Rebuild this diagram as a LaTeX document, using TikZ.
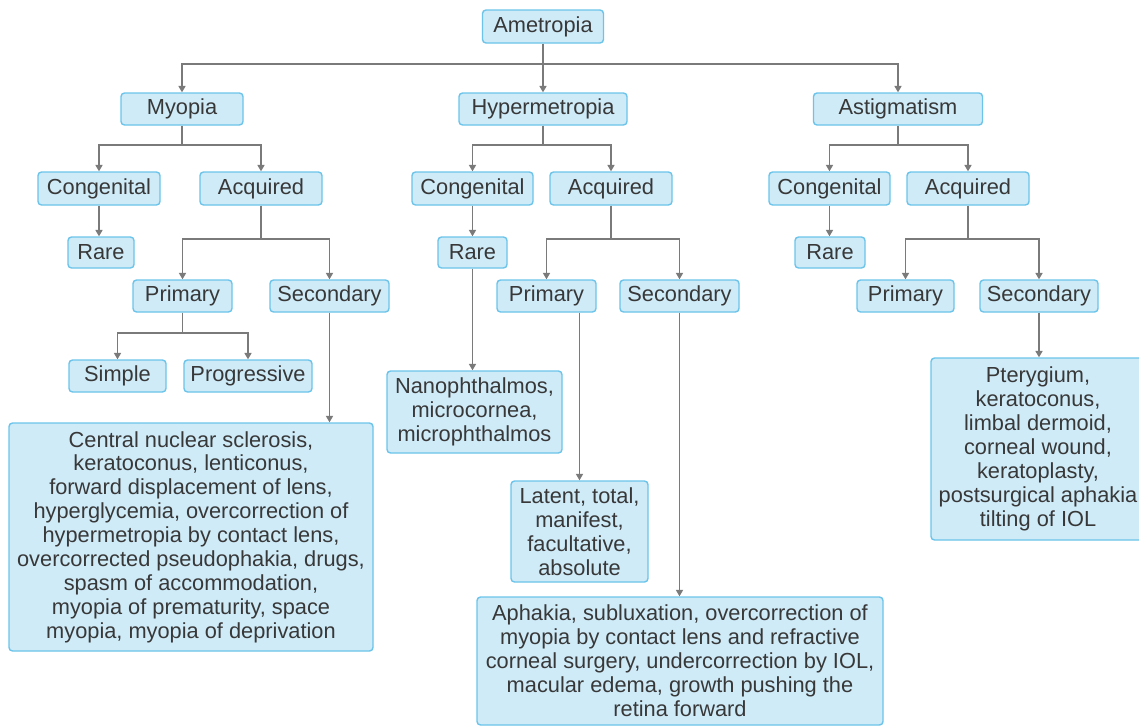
\documentclass[tikz,border=0pt]{standalone}
\usepackage{fontspec}
\setmainfont{Liberation Sans}
\usetikzlibrary{arrows.meta, positioning}
\definecolor{boxfill}{HTML}{CFEBF8}
\definecolor{boxline}{HTML}{6CC4EA}
\definecolor{linkgray}{HTML}{7A7A7A}
\definecolor{txtgray}{HTML}{383838}

\begin{document}
\begin{tikzpicture}[
    x=0.025cm, y=-0.025cm,
    font=\fontsize{15.5}{17}\selectfont,
    block/.style={
        rectangle, draw=boxline, fill=boxfill, rounded corners=2.5pt,
        line width=1pt, inner sep=0pt, text=txtgray, align=center
    },
    size/.style 2 args={minimum width=#1*0.025cm, minimum height=#2*0.025cm},
    link/.style={draw=linkgray, line width=0.9pt},
    arrow/.style={link, -{Triangle[width=5pt,length=4.5pt]}}
]
\useasboundingbox[fill=white] (0,0) rectangle (1139,726);

% Top levels
\node[block, size={121}{33}] (ametropia) at (543,26.5) {Ametropia};
\node[block, size={122}{32}] (myopia) at (182,109) {Myopia};
\node[block, size={168}{32}] (hyper) at (543,109) {Hypermetropia};
\node[block, size={169}{32}] (astig) at (898,109) {Astigmatism};

% Myopia branch
\node[block, size={122}{33}] (cong1) at (99,188.5) {Congenital};
\node[block, size={122}{33}] (acq1) at (261,188.5) {Acquired};
\node[block, size={66}{31}] (rare1) at (101,252.5) {Rare};
\node[block, size={99}{32}] (prim1) at (182.5,296) {Primary};
\node[block, size={119}{32}] (sec1) at (329.5,296) {Secondary};
\node[block, size={97}{32}] (simple) at (117.5,376) {Simple};
\node[block, size={128}{32}] (progr) at (248,376) {Progressive};
\node[block, size={364}{228}] (myocause) at (191,537) {Central nuclear sclerosis,\\keratoconus, lenticonus,\\forward displacement of lens,\\hyperglycemia, overcorrection of\\hypermetropia by contact lens,\\overcorrected pseudophakia, drugs,\\spasm of accommodation,\\myopia of prematurity, space\\myopia, myopia of deprivation};

% Hypermetropia branch
\node[block, size={121}{33}] (cong2) at (472.5,188.5) {Congenital};
\node[block, size={122}{33}] (acq2) at (611,188.5) {Acquired};
\node[block, size={69}{31}] (rare2) at (472.5,252.5) {Rare};
\node[block, size={99}{32}] (prim2) at (546.5,296) {Primary};
\node[block, size={119}{32}] (sec2) at (679.5,296) {Secondary};
\node[block, size={175}{82}] (nano) at (474.5,412) {Nanophthalmos,\\microcornea,\\microphthalmos};
\node[block, size={137}{101}] (latent) at (579.5,531.5) {Latent, total,\\manifest,\\facultative,\\absolute};
\node[block, size={406}{128}] (aphakia) at (680,661) {Aphakia, subluxation, overcorrection of\\myopia by contact lens and refractive\\corneal surgery, undercorrection by IOL,\\macular edema, growth pushing the\\retina forward};

% Astigmatism branch
\node[block, size={121}{33}] (cong3) at (829.5,188.5) {Congenital};
\node[block, size={122}{33}] (acq3) at (968,188.5) {Acquired};
\node[block, size={70}{31}] (rare3) at (830,252.5) {Rare};
\node[block, size={97}{32}] (prim3) at (905.5,296) {Primary};
\node[block, size={118}{32}] (sec3) at (1039,296) {Secondary};
\node[block, size={214}{182}] (ptery) at (1038,449) {Pterygium,\\keratoconus,\\limbal dermoid,\\corneal wound,\\keratoplasty,\\postsurgical aphakia\\tilting of IOL};

% Junction points
\coordinate (top) at (543,64);
\coordinate (j1) at (182,145);
\coordinate (j2) at (543,145);
\coordinate (j3) at (898,145);
\coordinate (s1) at (261,239);
\coordinate (s2) at (611,239);
\coordinate (s3) at (968,239);
\coordinate (p1) at (182.5,333);

% Top arrows
\draw[arrow] (ametropia) -- (hyper);
\draw[arrow] (top) -| (myopia);
\draw[arrow] (top) -| (astig);

% Myopia arrows
\draw[link] (myopia) -- (j1);
\draw[arrow] (j1) -| (cong1);
\draw[arrow] (j1) -| (acq1);
\draw[arrow] (cong1.south) -- (cong1.south |- rare1.north);
\draw[link] (acq1) -- (s1);
\draw[arrow] (s1) -| (prim1);
\draw[arrow] (s1) -| (sec1);
\draw[link] (prim1) -- (p1);
\draw[arrow] (p1) -| (simple);
\draw[arrow] (p1) -| (progr);
\draw[arrow] (sec1.south) -- (sec1.south |- myocause.north);

% Hypermetropia arrows
\draw[link] (hyper) -- (j2);
\draw[arrow] (j2) -| (cong2);
\draw[arrow] (j2) -| (acq2);
\draw[arrow] (cong2.south) -- (cong2.south |- rare2.north);
\draw[link] (acq2) -- (s2);
\draw[arrow] (s2) -| (prim2);
\draw[arrow] (s2) -| (sec2);
\draw[arrow] (rare2.south) -- (rare2.south |- nano.north);
\draw[arrow] (latent.north |- prim2.south) -- (latent.north);
\draw[arrow] (sec2.south) -- (sec2.south |- aphakia.north);

% Astigmatism arrows
\draw[link] (astig) -- (j3);
\draw[arrow] (j3) -| (cong3);
\draw[arrow] (j3) -| (acq3);
\draw[arrow] (cong3.south) -- (cong3.south |- rare3.north);
\draw[link] (acq3) -- (s3);
\draw[arrow] (s3) -| (prim3);
\draw[arrow] (s3) -| (sec3);
\draw[arrow] (sec3.south) -- (sec3.south |- ptery.north);

\end{tikzpicture}
\end{document}
